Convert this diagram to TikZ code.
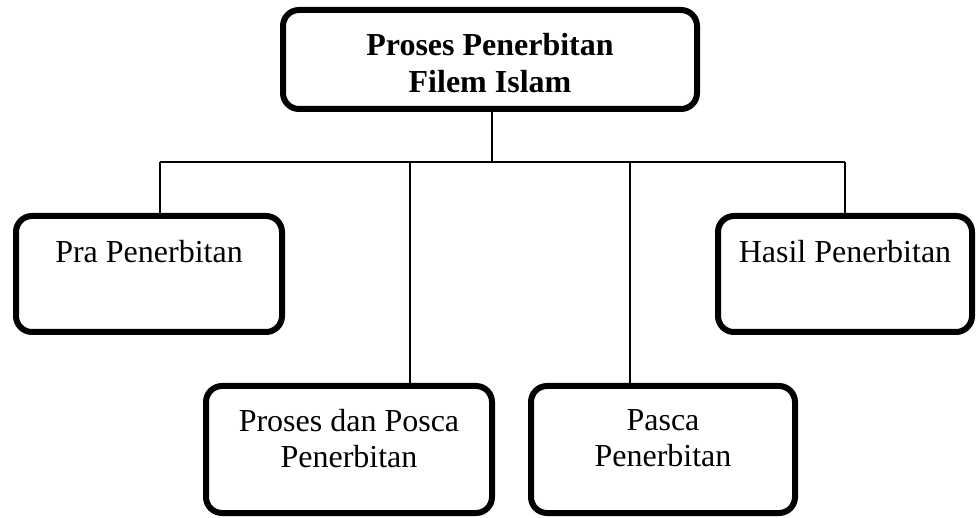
\documentclass[tikz,border=0pt]{standalone}
\usepackage{fontspec}
\setmainfont{Liberation Serif}
\usetikzlibrary{positioning}

\tikzset{
  kotak/.style={draw, line width=6pt, rounded corners=16pt, align=center,
    font=\fontsize{32}{36}\selectfont},
  garis/.style={line width=1.3pt}
}

\begin{document}
\begin{tikzpicture}[x=1pt,y=-1pt,node distance=2cm,on grid]
                \useasboundingbox (0,0) rectangle (977,518);
                \node[kotak,font=\fontsize{32}{37}\selectfont\bfseries,
                      minimum width=414pt,minimum height=99pt,text depth=0pt] (tajuk) at (490,59.5)
                      {\rule{0pt}{30pt}Proses Penerbitan\\Filem Islam};
                \node[kotak,minimum width=266pt,minimum height=116pt,
                      text height=22pt,text depth=44pt] (pra)
                      [below left=214.5pt and 341pt of tajuk] {Pra Penerbitan};
                \node[kotak,minimum width=254pt,minimum height=116pt,
                      text height=22pt,text depth=44pt] (hasil)
                      [below right=214.5pt and 355pt of tajuk] {Hasil Penerbitan};
                \node[kotak,minimum width=286pt,minimum height=127pt,text depth=22pt] (proses)
                      [below left=390pt and 141pt of tajuk] {Proses dan Posca\\Penerbitan};
                \node[kotak,minimum width=264pt,minimum height=127pt,text depth=22pt] (pasca)
                      [below right=390pt and 173pt of tajuk] {Pasca\\Penerbitan};
                \coordinate (simpang) at (492,162);
                \coordinate (c_1) at (160,162);
                \coordinate (c_2) at (410,162);
                \coordinate (c_3) at (630,162);
                \coordinate (c_4) at (845,162);
                \draw[garis] (simpang |- tajuk.south) -- (simpang);
                \draw[garis] (c_1) -- (c_4);
                \draw[garis] (c_1) -- (c_1 |- pra.north);
                \draw[garis] (c_2) -- (c_2 |- proses.north);
                \draw[garis] (c_3) -- (c_3 |- pasca.north);
                \draw[garis] (c_4) -- (c_4 |- hasil.north);
\end{tikzpicture}
\end{document}
